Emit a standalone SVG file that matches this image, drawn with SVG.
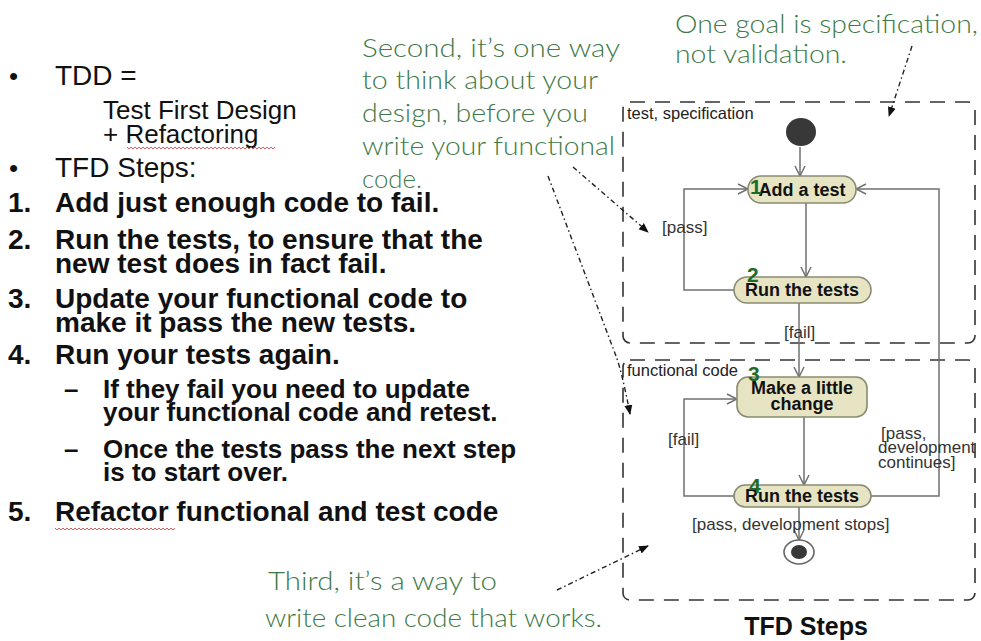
<svg xmlns="http://www.w3.org/2000/svg" width="981" height="641" viewBox="0 0 981 641">
  <style>
    .reg { font-family: "Liberation Sans", Arial, sans-serif; fill: #111; }
    .bold { font-family: "Liberation Sans", Arial, sans-serif; font-weight: bold; fill: #111; }
    .note { font-family: "Lato", "Open Sans", sans-serif; font-weight: 300; font-size: 26px; fill: #3f7a48; }
    .frame { fill: none; stroke: #333; stroke-width: 1.6; stroke-dasharray: 15 10; }
    .frameLabel { font-family: "Liberation Sans", Arial, sans-serif; font-size: 16.5px; fill: #222; }
    .node rect { fill: #e6e4c3; stroke: #8a8a72; stroke-width: 1.6; }
    .nodeText { font-family: "Liberation Sans", Arial, sans-serif; font-weight: bold; font-size: 18px; fill: #111; text-anchor: middle; }
    .step { font-family: "Liberation Sans", Arial, sans-serif; font-weight: bold; font-size: 21px; fill: #1d6b2a; }
    .flow { fill: none; stroke: #707070; stroke-width: 1.5; }
    .guard { font-family: "Liberation Sans", Arial, sans-serif; font-size: 17px; fill: #333; }
    .pointer { fill: none; stroke: #222; stroke-width: 1.4; stroke-dasharray: 5 3 1.5 3; }
    .squiggle { fill: none; stroke: #d04848; stroke-width: 0.9; }
  </style>
  <defs>
    <marker id="open" viewBox="0 0 12 12" refX="11" refY="6" markerWidth="12" markerHeight="12" markerUnits="userSpaceOnUse" orient="auto">
      <path d="M1,1 L11,6 L1,11" fill="none" stroke="#707070" stroke-width="1.5"/>
    </marker>
    <marker id="solid" viewBox="0 0 10 10" refX="9" refY="5" markerWidth="10" markerHeight="10" markerUnits="userSpaceOnUse" orient="auto">
      <path d="M0,1 L10,5 L0,9 Z" fill="#111"/>
    </marker>
  </defs>

  <!-- slide text -->
  <g id="slide-text">
    <text class="reg" x="9" y="85" font-size="26">•</text>
    <text class="reg" x="55" y="85" font-size="28">TDD =</text>
    <text class="reg" x="103" y="119" font-size="26">Test First Design</text>
    <text class="reg" x="103" y="143" font-size="26">+ Refactoring</text>
    <path class="squiggle" d="M127,147 l2,2 l2,-2 l2,2 l2,-2 l2,2 l2,-2 l2,2 l2,-2 l2,2 l2,-2 l2,2 l2,-2 l2,2 l2,-2 l2,2 l2,-2 l2,2 l2,-2 l2,2 l2,-2 l2,2 l2,-2 l2,2 l2,-2 l2,2 l2,-2 l2,2 l2,-2 l2,2 l2,-2 l2,2 l2,-2 l2,2 l2,-2 l2,2 l2,-2 l2,2 l2,-2 l2,2 l2,-2 l2,2 l2,-2 l2,2 l2,-2 l2,2 l2,-2 l2,2 l2,-2 l2,2 l2,-2 l2,2 l2,-2 l2,2 l2,-2 l2,2 l2,-2 l2,2 l2,-2 l2,2 l2,-2 l2,2 l2,-2 l2,2 l2,-2 l2,2 l2,-2 l2,2 l2,-2 l2,2 l2,-2 l2,2 l2,-2 l2,2 l2,-2"/>
    <text class="reg" x="9" y="177" font-size="26">•</text>
    <text class="reg" x="55" y="177" font-size="28">TFD Steps:</text>

    <g font-size="28">
      <text class="bold" x="8" y="212">1.</text>
      <text class="bold" x="55" y="212">Add just enough code to fail.</text>
      <text class="bold" x="8" y="249">2.</text>
      <text class="bold" x="55" y="249">Run the tests, to ensure that the</text>
      <text class="bold" x="55" y="273">new test does in fact fail.</text>
      <text class="bold" x="8" y="308">3.</text>
      <text class="bold" x="55" y="308">Update your functional code to</text>
      <text class="bold" x="55" y="332">make it pass the new tests.</text>
      <text class="bold" x="8" y="364">4.</text>
      <text class="bold" x="55" y="364">Run your tests again.</text>
      <text class="bold" x="8" y="521">5.</text>
      <text class="bold" x="55" y="521">Refactor functional and test code</text>
    </g>
    <path class="squiggle" d="M55,528 l2,2 l2,-2 l2,2 l2,-2 l2,2 l2,-2 l2,2 l2,-2 l2,2 l2,-2 l2,2 l2,-2 l2,2 l2,-2 l2,2 l2,-2 l2,2 l2,-2 l2,2 l2,-2 l2,2 l2,-2 l2,2 l2,-2 l2,2 l2,-2 l2,2 l2,-2 l2,2 l2,-2 l2,2 l2,-2 l2,2 l2,-2 l2,2 l2,-2 l2,2 l2,-2 l2,2 l2,-2 l2,2 l2,-2 l2,2 l2,-2 l2,2 l2,-2 l2,2 l2,-2 l2,2 l2,-2 l2,2 l2,-2 l2,2 l2,-2 l2,2 l2,-2 l2,2 l2,-2 l2,2 l2,-2"/>
    <g font-size="26">
      <text class="bold" x="64" y="398">–</text>
      <text class="bold" x="103" y="398">If they fail you need to update</text>
      <text class="bold" x="103" y="421">your functional code and retest.</text>
      <text class="bold" x="64" y="458">–</text>
      <text class="bold" x="103" y="458">Once the tests pass the next step</text>
      <text class="bold" x="103" y="481">is to start over.</text>
    </g>
  </g>

  <!-- handwritten remarks -->
  <g id="remarks">
    <text class="note" x="675" y="33" textLength="303" lengthAdjust="spacingAndGlyphs">One goal is specification,</text>
    <text class="note" x="675" y="63" textLength="172" lengthAdjust="spacingAndGlyphs">not validation.</text>
    <text class="note" x="362" y="57" textLength="258" lengthAdjust="spacingAndGlyphs">Second, it’s one way</text>
    <text class="note" x="362" y="89" textLength="236" lengthAdjust="spacingAndGlyphs">to think about your</text>
    <text class="note" x="362" y="122" textLength="226" lengthAdjust="spacingAndGlyphs">design, before you</text>
    <text class="note" x="362" y="155" textLength="253" lengthAdjust="spacingAndGlyphs">write your functional</text>
    <text class="note" x="362" y="188" textLength="60" lengthAdjust="spacingAndGlyphs">code.</text>
    <text class="note" x="268" y="590" textLength="229" lengthAdjust="spacingAndGlyphs">Third, it’s a way to</text>
    <text class="note" x="265" y="627" textLength="337" lengthAdjust="spacingAndGlyphs">write clean code that works.</text>
  </g>

  <!-- activity partitions -->
  <g id="partition-test">
    <rect class="frame" x="623" y="102" width="352" height="241" rx="7"/>
    <text class="frameLabel" x="627" y="119">test, specification</text>
  </g>
  <g id="partition-code">
    <rect class="frame" x="623" y="360" width="352" height="240" rx="7"/>
    <text class="frameLabel" x="627" y="376">functional code</text>
  </g>

  <!-- control flows -->
  <g id="connectors">
    <path class="flow" d="M800,147 L800,176" marker-end="url(#open)"/>
    <path class="flow" d="M806,203 L806,277" marker-end="url(#open)"/>
    <path class="flow" d="M734,290 L684,290 L684,189 L748,189" marker-end="url(#open)"/>
    <path class="flow" d="M799,303 L799,377" marker-end="url(#open)"/>
    <path class="flow" d="M804,417 L804,485" marker-end="url(#open)"/>
    <path class="flow" d="M734,496 L684,496 L684,399 L737,399" marker-end="url(#open)"/>
    <path class="flow" d="M871,496 L939,496 L939,189 L856,189" marker-end="url(#open)"/>
    <path class="flow" d="M799,507 L799,540" marker-end="url(#open)"/>
    <text class="guard" x="662" y="233">[pass]</text>
    <text class="guard" x="784" y="338">[fail]</text>
    <text class="guard" x="668" y="445">[fail]</text>
    <text class="guard" x="881" y="439" font-size="16.5">[pass,</text>
    <text class="guard" x="878" y="453" font-size="16.5">development</text>
    <text class="guard" x="878" y="468" font-size="16.5">continues]</text>
    <text class="guard" x="692" y="530">[pass, development stops]</text>
  </g>

  <!-- activity nodes -->
  <g id="start">
    <ellipse cx="801" cy="132" rx="15" ry="14" fill="#383838"/>
  </g>
  <g id="add-test" class="node">
    <rect x="748" y="176" width="108" height="27" rx="13"/>
    <text class="nodeText" x="802" y="196">Add a test</text>
    <text class="step" x="750" y="194">1</text>
  </g>
  <g id="run-tests-1" class="node">
    <rect x="734" y="277" width="137" height="26" rx="13"/>
    <text class="nodeText" x="802" y="296">Run the tests</text>
    <text class="step" x="747" y="282">2</text>
  </g>
  <g id="make-change" class="node">
    <rect x="737" y="377" width="130" height="40" rx="11"/>
    <text class="nodeText" x="802" y="394">Make a little</text>
    <text class="nodeText" x="802" y="410">change</text>
    <text class="step" x="748" y="381">3</text>
  </g>
  <g id="run-tests-2" class="node">
    <rect x="734" y="485" width="137" height="22" rx="11"/>
    <text class="nodeText" x="802" y="502">Run the tests</text>
    <text class="step" x="749" y="493">4</text>
  </g>
  <g id="end">
    <ellipse cx="799" cy="552" rx="15" ry="12" fill="#fff" stroke="#666" stroke-width="1.6"/>
    <ellipse cx="799" cy="552" rx="8" ry="7" fill="#383838"/>
  </g>

  <!-- remark pointers -->
  <g id="pointers">
    <path class="pointer" d="M912,46 L889,116" marker-end="url(#solid)"/>
    <path class="pointer" d="M573,167 L648,232" marker-end="url(#solid)"/>
    <path class="pointer" d="M548,176 L616,356 Q622,372 630,414" marker-end="url(#solid)"/>
    <path class="pointer" d="M557,590 L648,546" marker-end="url(#solid)"/>
  </g>

  <text class="bold" x="806" y="635" font-size="25" text-anchor="middle">TFD Steps</text>
</svg>
